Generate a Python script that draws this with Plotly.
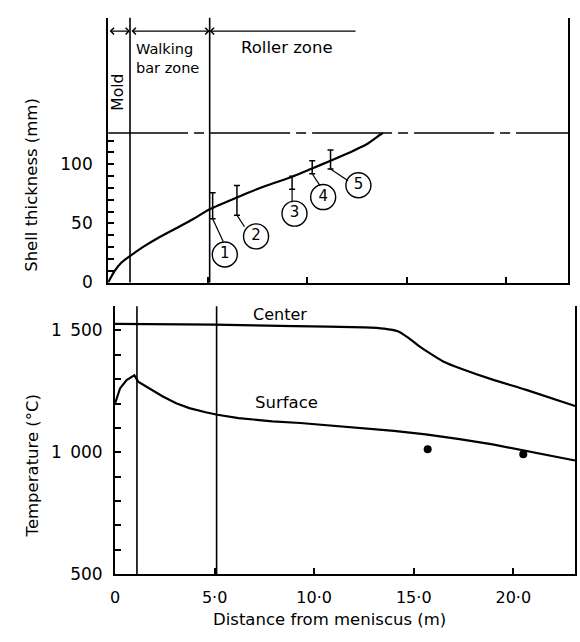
import plotly.graph_objects as go

# ---------------- data ----------------
ZONE_BOUNDS = [1.1, 5.1]            # end of mold, end of walking-bar zone (m)
HALF_THICKNESS = 126.5              # slab half thickness (mm)

SHELL_X = [0, 0.33, 0.66, 1.15, 1.8, 2.64, 3.47, 4.3, 5.1, 6.47, 7.8, 9.24,
           10.15, 11.14, 12.13, 12.96, 13.66, 13.8]
SHELL_Y = [0, 9.8, 16.7, 23, 30.6, 39, 46.4, 54, 62, 72, 81, 89.5,
           95.8, 102.8, 110, 116.7, 125, 126.5]

MEAS_X = [5.25, 6.47, 9.24, 10.25, 11.17]
MEAS_LOW = [54, 57, 79, 92, 96]
MEAS_HIGH = [76, 82, 90, 103, 112]
MEAS_LABELS = ["1", "2", "3", "4", "5"]

CENTER_X = [0, 5, 9, 12.5, 13.5, 14.2, 14.7, 15.2, 15.7, 16.5, 17.35, 19.0, 20.65, 23.1]
CENTER_T = [1527, 1524, 1518, 1513, 1508, 1497, 1472, 1440, 1412, 1372, 1344, 1297, 1256, 1190]

SURFACE_X = [0, 0.25, 0.58, 0.97, 1.16, 1.74, 2.4, 3.07, 3.73, 4.55, 5.14, 6.2, 7.9,
             9.3, 11.2, 12.4, 14.0, 15.6, 17.3, 18.96, 20.6, 23.1]
SURFACE_T = [1200, 1262, 1296, 1316, 1290, 1262, 1229, 1201, 1181, 1164, 1154, 1140, 1127,
             1120, 1106, 1098, 1088, 1073, 1054, 1032, 1006, 966]

DOT_X = [15.7, 20.5]
DOT_T = [1012, 992]

X_TICKS = [0, 5, 10, 15, 20]
X_TICK_TEXT = ["0", "5·0", "10·0", "15·0", "20·0"]
SHELL_TICKS = list(range(0, 130, 10))
SHELL_TICK_TEXT = {0: "0", 50: "50", 100: "100"}
TEMP_TICKS = list(range(500, 1700, 100))
TEMP_TICK_TEXT = {500: "500", 1000: "1\u2002000", 1500: "1\u2002500"}

# ---------------- layout helpers (positions only) ----------------
LABEL_POS = [(5.86, 23.7), (7.43, 39), (9.36, 58.3), (10.8, 72.3), (12.57, 82.3)]
LEADER_END = [(5.78, 34.7), (6.85, 47.2), (9.24, 68), (10.64, 82), (12.05, 86.1)]
ROLLER_ARROW_END = 12.5
ARROW_Y = 212.7

FONT = "DejaVu Sans"
W, H = 580, 642

fig = go.Figure()

# ---- top panel ----
fig.add_trace(go.Scatter(x=[0, 23.1], y=[HALF_THICKNESS, HALF_THICKNESS], mode="lines",
                         line=dict(color="black", width=1.5, dash="80px,6px,10px,6px"),
                         xaxis="x", yaxis="y", hoverinfo="skip"))
fig.add_trace(go.Scatter(x=SHELL_X, y=SHELL_Y, mode="lines",
                         line=dict(color="black", width=2.2, shape="spline", smoothing=0.6),
                         xaxis="x", yaxis="y"))
mid = [(lo + hi) / 2 for lo, hi in zip(MEAS_LOW, MEAS_HIGH)]
half = [(hi - lo) / 2 for lo, hi in zip(MEAS_LOW, MEAS_HIGH)]
fig.add_trace(go.Scatter(x=MEAS_X, y=mid, mode="markers",
                         marker=dict(size=1, color="rgba(0,0,0,0)"),
                         error_y=dict(type="data", array=half, visible=True,
                                      color="black", thickness=1.5, width=3),
                         xaxis="x", yaxis="y"))
fig.add_trace(go.Scatter(x=[p[0] for p in LABEL_POS], y=[p[1] for p in LABEL_POS],
                         mode="markers+text", text=MEAS_LABELS, textposition="middle center",
                         textfont=dict(family=FONT, size=15, color="black"),
                         marker=dict(symbol="circle", size=25, color="white",
                                     line=dict(color="black", width=1.4)),
                         xaxis="x", yaxis="y"))

# ---- bottom panel ----
fig.add_trace(go.Scatter(x=CENTER_X, y=CENTER_T, mode="lines",
                         line=dict(color="black", width=2.2, shape="spline", smoothing=0.6),
                         xaxis="x2", yaxis="y2"))
fig.add_trace(go.Scatter(x=SURFACE_X, y=SURFACE_T, mode="lines",
                         line=dict(color="black", width=2.2),
                         xaxis="x2", yaxis="y2"))
fig.add_trace(go.Scatter(x=DOT_X, y=DOT_T, mode="markers",
                         marker=dict(size=8, color="black"),
                         xaxis="x2", yaxis="y2"))

shapes = []
for b in ZONE_BOUNDS:
    shapes.append(dict(type="line", xref="x", yref="y domain", x0=b, x1=b, y0=0, y1=1,
                       line=dict(color="black", width=1.6)))
    shapes.append(dict(type="line", xref="x2", yref="y2 domain", x0=b, x1=b, y0=0, y1=1,
                       line=dict(color="black", width=1.6)))
for (sx, sy), (ex, ey) in zip(zip(MEAS_X, MEAS_LOW), LEADER_END):
    shapes.append(dict(type="line", xref="x", yref="y", x0=sx, y0=sy, x1=ex, y1=ey,
                       line=dict(color="black", width=1.2)))

ann = []
# zone arrows
zone_edges = [0] + ZONE_BOUNDS
for a, b in zip(zone_edges[:-1], zone_edges[1:]):
    ann.append(dict(x=b, y=ARROW_Y, ax=a, ay=ARROW_Y, xref="x", yref="y", axref="x", ayref="y",
                    text="", showarrow=True, arrowhead=4, startarrowhead=4, arrowside="end+start",
                    arrowsize=1, arrowwidth=1.3, arrowcolor="black", standoff=0, startstandoff=0))
ann.append(dict(x=ZONE_BOUNDS[1], y=ARROW_Y, ax=ROLLER_ARROW_END, ay=ARROW_Y, xref="x", yref="y",
                axref="x", ayref="y", text="", showarrow=True, arrowhead=4, arrowsize=1,
                arrowwidth=1.3, arrowcolor="black", standoff=0))

def label(x, y, text, size, xref="x", yref="y", **kw):
    d = dict(x=x, y=y, xref=xref, yref=yref, text=text, showarrow=False,
             xanchor="center", yanchor="middle",
             font=dict(family=FONT, size=size, color="black"))
    d.update(kw)
    ann.append(d)

label(0.52, 161, "Mold", 15.5, textangle=-90)
label(1.29, 189.8, "Walking<br>bar zone", 14.5, xanchor="left", align="left")
label(9.0, 199, "Roller zone", 16.5)
label(8.3, 1567, "Center", 16)
ann[-1].update(xref="x2", yref="y2")
label(8.63, 1203, "Surface", 16.5, xref="x2", yref="y2")
label(26 / W, 1 - 188 / H, "Shell thickness (mm)", 16.5, xref="paper", yref="paper", textangle=-90)
label(28 / W, 1 - 473 / H, "Temperature (°C)", 16.5, xref="paper", yref="paper", textangle=-90)
label(327 / W, 1 - 629 / H, "Distance from meniscus (m)", 16.5, xref="paper", yref="paper")

axis_common = dict(showgrid=False, zeroline=False, showline=True, linecolor="black", linewidth=2,
                   ticks="inside", tickcolor="black", tickwidth=1.5, ticklen=6)

fig.update_layout(
    width=W, height=H, margin=dict(l=0, r=0, t=0, b=0), showlegend=False,
    paper_bgcolor="white", plot_bgcolor="white",
    xaxis=dict(domain=[104 / W, 568 / W], range=[0, 23.1], anchor="y",
               tickvals=X_TICKS[1:], showticklabels=False, **axis_common),
    yaxis=dict(domain=[1 - 287 / H, 1 - 18 / H], range=[0, 224], anchor="x", mirror=True,
               tickvals=SHELL_TICKS, ticktext=[SHELL_TICK_TEXT.get(v, "") for v in SHELL_TICKS],
               ticklabelstandoff=10, tickfont=dict(family=FONT, size=17, color="black"),
               **axis_common),
    xaxis2=dict(domain=[111 / W, 575 / W], range=[0, 23.1], anchor="y2",
                tickvals=X_TICKS, ticktext=X_TICK_TEXT, ticklabelstandoff=8,
                tickfont=dict(family=FONT, size=16, color="black"), **axis_common),
    yaxis2=dict(domain=[1 - 583 / H, 1 - 311 / H], range=[500, 1600], anchor="x2", mirror=True,
                tickvals=TEMP_TICKS, ticktext=[TEMP_TICK_TEXT.get(v, "") for v in TEMP_TICKS],
                ticklabelstandoff=7, tickfont=dict(family=FONT, size=17, color="black"),
                **axis_common),
    shapes=shapes, annotations=ann,
)

fig.write_html("out.html")
